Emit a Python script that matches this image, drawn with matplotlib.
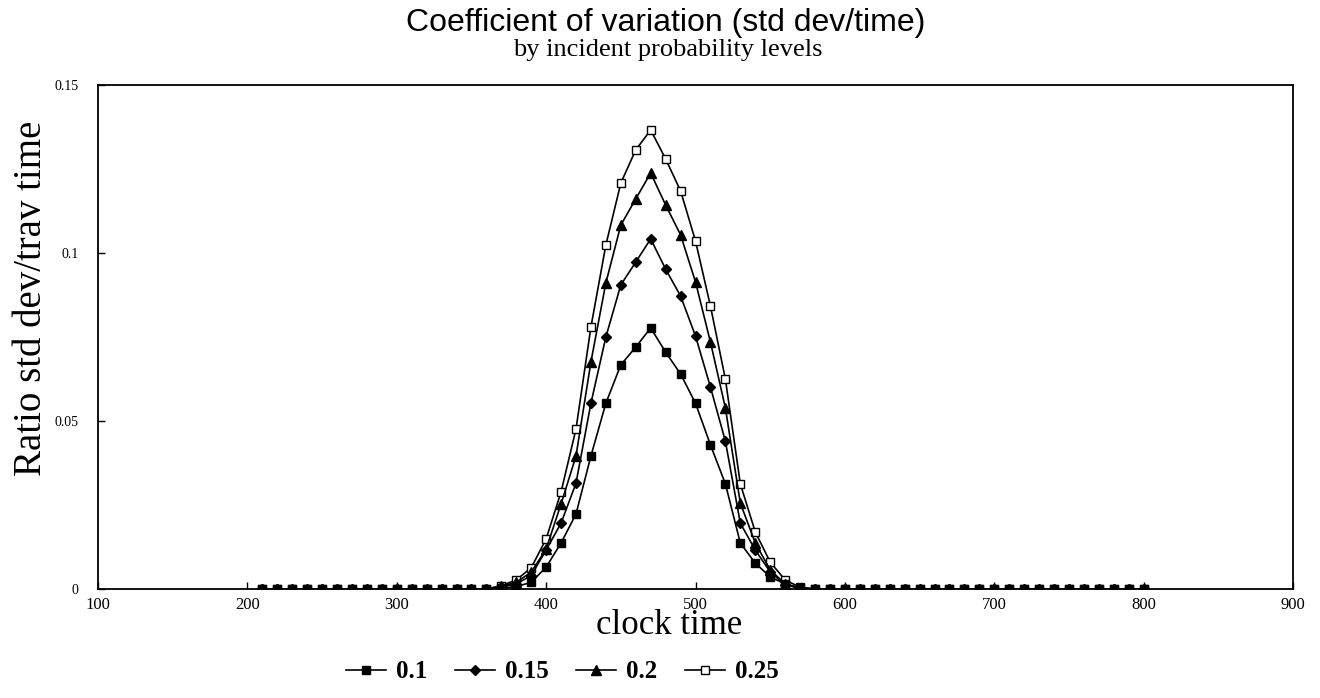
import numpy as np
import matplotlib
matplotlib.use("Agg")
import matplotlib.pyplot as plt

# clock time, every 10 from 210 to 800
clock = list(range(210, 801, 10))

flat_before = [0.0] * 16   # 210..360
flat_after = [0.0] * 23    # 580..800

# 370..570
p010 = [0.0003, 0.0007, 0.002, 0.0065, 0.0137, 0.0223, 0.0396, 0.0553, 0.0667, 0.0720, 0.0777,
        0.0705, 0.0640, 0.0553, 0.0429, 0.0313, 0.0137, 0.0077, 0.0036, 0.0015, 0.0003]
p015 = [0.0006, 0.0015, 0.004, 0.0116, 0.0196, 0.0315, 0.0553, 0.0750, 0.0905, 0.0973, 0.1042,
        0.0952, 0.0872, 0.0753, 0.0601, 0.0440, 0.0196, 0.0116, 0.0051, 0.0012, 0.0002]
p020 = [0.0008, 0.002, 0.005, 0.0119, 0.0253, 0.0396, 0.0676, 0.0911, 0.1083, 0.1161, 0.1238,
        0.1143, 0.1054, 0.0914, 0.0735, 0.0539, 0.0256, 0.0137, 0.0057, 0.0015, 0.0003]
p025 = [0.001, 0.0027, 0.0063, 0.0149, 0.0289, 0.0476, 0.0780, 0.1024, 0.1208, 0.1307, 0.1366,
        0.1280, 0.1185, 0.1036, 0.0842, 0.0625, 0.0313, 0.0170, 0.0080, 0.0027, 0.0005]

labels = ["0.1", "0.15", "0.2", "0.25"]
xticks = [100, 200, 300, 400, 500, 600, 700, 800, 900]
yticks = [0, 0.05, 0.1, 0.15]
ytick_labels = ["0", "0.05", "0.1", "0.15"]

series = [p010, p015, p020, p025]
markers = ["s", "D", "^", "s"]
msizes = [6, 5.5, 7, 6]
faces = ["black", "black", "black", "white"]
zorders = [6, 5, 4, 3]

fig = plt.figure(figsize=(13.2, 6.98), dpi=100)
ax = fig.add_axes([98 / 1320, 1 - 589 / 698, (1293 - 98) / 1320, (589 - 85) / 698])

for s, lab, m, ms, fc, z in zip(series, labels, markers, msizes, faces, zorders):
    y = flat_before + s + flat_after
    ax.plot(clock, y, color="black", lw=1.2, marker=m, ms=ms, zorder=z,
            markerfacecolor=fc, markeredgecolor="black", markeredgewidth=1.0, label=lab)

ax.set_xlim(100, 900)
ax.set_ylim(0, 0.15)
ax.set_xticks(xticks)
ax.set_xticklabels([str(t) for t in xticks], fontsize=12, family="Liberation Serif")
ax.set_yticks(yticks)
ax.set_yticklabels(ytick_labels, fontsize=10, family="Liberation Serif")
ax.tick_params(axis="both", direction="in", length=5, width=1)
ax.tick_params(axis="y", pad=14)
ax.tick_params(axis="x", pad=6)
for sp in ax.spines.values():
    sp.set_linewidth(1.3)

fig.text(0.504, 0.967, "Coefficient of variation (std dev/time)", ha="center", va="center",
         fontsize=23, family="Liberation Sans")
fig.text(0.506, 0.929, "by incident probability levels", ha="center", va="center",
         fontsize=19, family="Liberation Serif")
fig.text(0.0235, 0.572, "Ratio std dev/trav time", rotation=90, ha="center", va="center",
         fontsize=28, family="Liberation Serif")
fig.text(0.507, 0.104, "clock time", ha="center", va="center",
         fontsize=25, family="Liberation Serif")

leg = fig.legend(loc="center", bbox_to_anchor=(562 / 1320, 1 - 672 / 698), ncol=4, frameon=False,
                 handlelength=1.6, handletextpad=0.4, columnspacing=1.1,
                 prop={"family": "Liberation Serif", "weight": "bold", "size": 18})

fig.savefig("out.png", dpi=100)
